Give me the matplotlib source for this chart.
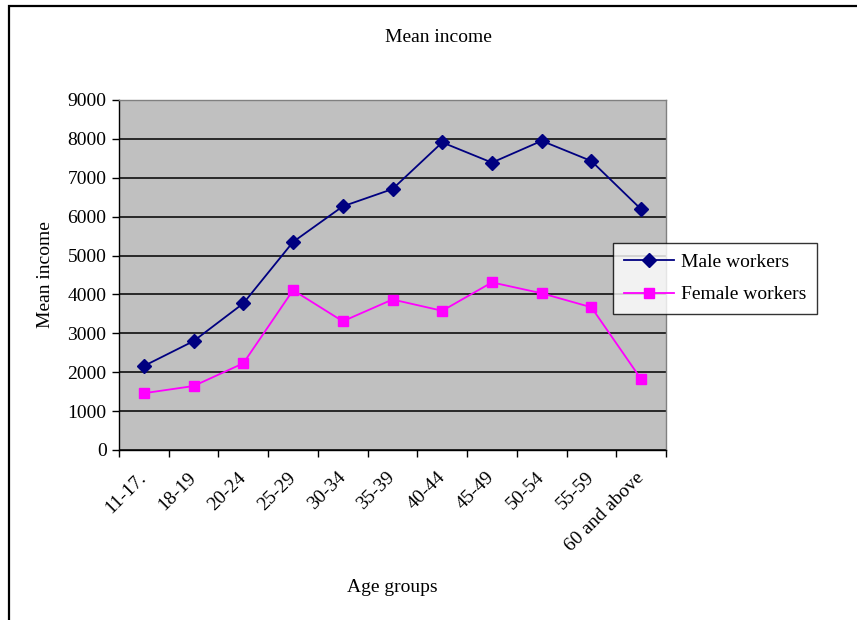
import matplotlib
matplotlib.use('Agg')
import matplotlib.pyplot as plt
from matplotlib.patches import Rectangle
import numpy as np

plt.rcParams['font.family'] = ['Liberation Serif', 'DejaVu Serif']

age_groups = ['11-17.', '18-19', '20-24', '25-29', '30-34', '35-39',
              '40-44', '45-49', '50-54', '55-59', '60 and above']
male = [2160, 2800, 3770, 5350, 6265, 6710, 7910, 7390, 7950, 7430, 6190]
female = [1460, 1645, 2230, 4110, 3310, 3870, 3580, 4310, 4030, 3670, 1820]
yticks = [0, 1000, 2000, 3000, 4000, 5000, 6000, 7000, 8000, 9000]

W, H = 857, 620
fig = plt.figure(figsize=(W / 100, H / 100), dpi=100)

# outer chart frame (runs off the right and bottom edge)
fig.patches.append(Rectangle((9 / W, -0.1), 1.2, 1 - 6 / H + 0.1,
                             transform=fig.transFigure, fill=False,
                             edgecolor='black', linewidth=1.6))

ax = fig.add_axes([119 / W, 1 - 450 / H, (666 - 119) / W, 350 / H])
ax.set_facecolor('#c0c0c0')

x = np.arange(len(age_groups))
ax.plot(x, male, color='#000080', marker='D', markersize=7, linewidth=1.3,
        label='Male workers', zorder=3)
ax.plot(x, female, color='#ff00ff', marker='s', markersize=7.5, linewidth=1.3,
        label='Female workers', zorder=3)

ax.set_xlim(-0.5, len(age_groups) - 0.5)
ax.set_ylim(0, 9000)
ax.set_yticks(yticks)
ax.yaxis.grid(True, color='black', linewidth=1.1)
ax.set_axisbelow(True)

ax.set_xticks(x)
ax.set_xticklabels(age_groups, rotation=45, ha='right', va='center',
                   rotation_mode='anchor', fontsize=14)
ax.set_xticks(np.arange(len(age_groups) + 1) - 0.5, minor=True)
ax.tick_params(axis='x', which='major', length=0, pad=18)
ax.tick_params(axis='x', which='minor', length=5, width=1, direction='out')
ax.tick_params(axis='y', length=5, width=1, direction='out', labelsize=14, pad=4)

for s in ['top', 'right']:
    ax.spines[s].set_color('#808080')
    ax.spines[s].set_linewidth(1.0)
for s in ['left', 'bottom']:
    ax.spines[s].set_color('black')
    ax.spines[s].set_linewidth(1.0)

fig.text(438 / W, 1 - 38 / H, 'Mean income', ha='center', va='center', fontsize=14)
fig.text(45 / W, 1 - 275 / H, 'Mean income', ha='center', va='center',
         rotation=90, fontsize=14)
fig.text(392 / W, 1 - 588 / H, 'Age groups', ha='center', va='center', fontsize=14)

leg = fig.legend(loc='upper left', bbox_to_anchor=(613 / W, 1 - 243 / H),
                 bbox_transform=fig.transFigure, fontsize=14, frameon=True,
                 fancybox=False, shadow=False, borderaxespad=0,
                 handlelength=2.6, handletextpad=0.35, labelspacing=0.75,
                 borderpad=0.55)
leg.get_frame().set_edgecolor('black')
leg.get_frame().set_linewidth(1.0)

fig.savefig('out.png', dpi=100)
